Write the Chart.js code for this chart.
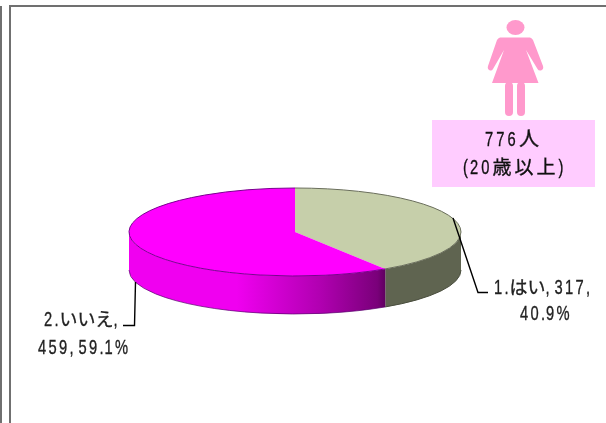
<!DOCTYPE html>
<html><head><meta charset="utf-8">
<style>html,body{margin:0;padding:0;background:#fff;overflow:hidden}canvas{display:block}</style>
<script src="https://cdn.jsdelivr.net/npm/chart.js@4"></script>
</head><body>
<div style="position:relative;width:606px;height:423px"><canvas id="c" width="606" height="423"></canvas></div>
<script>
const categories = ['1.はい', '2.いいえ'];
const counts = [317, 459];
const percents = ['40.9%', '59.1%'];
const topColors = ['#c6cfaa', '#ff00ff'];
const boxLines = ['776人', '(20歳以上)'];

const CX = 295, CY = 232, RX = 166, RY = 44, DEPTH = 38;

// Narrow half-width latin with wide full-width kana, char by char
const ADV = { '.': 5, ',': 9, '%': 12, '(': 7, ')': 9 };
function drawText(ctx, s, x, y, cjkSize, cjkAdv, digitAdv) {
  for (const ch of s) {
    const ascii = ch.charCodeAt(0) < 128;
    ctx.save();
    ctx.translate(x, y);
    if (ascii) {
      ctx.scale(0.7, 1);
      ctx.font = '21px "Liberation Sans","DejaVu Sans",sans-serif';
    } else {
      ctx.font = cjkSize + 'px "Noto Sans CJK JP",sans-serif';
    }
    ctx.lineWidth = 0.35;
    ctx.strokeStyle = ctx.fillStyle;
    ctx.fillText(ch, 0, 0);
    ctx.strokeText(ch, 0, 0);
    ctx.restore();
    x += ascii ? (ADV[ch] || digitAdv) : cjkAdv;
  }
}

const threeD = {
  id: 'threeD',
  beforeDatasetsDraw(chart) {
    const ctx = chart.ctx;
    // page frame
    ctx.save();
    ctx.strokeStyle = '#707070'; ctx.lineWidth = 2;
    ctx.beginPath();
    ctx.moveTo(1, 6); ctx.lineTo(1, 423);
    ctx.moveTo(10, 423); ctx.lineTo(10, 6); ctx.lineTo(606, 6);
    ctx.stroke();
    ctx.restore();
    // pie side wall, from the arc elements' own angles
    const arcs = chart.getDatasetMeta(0).data;
    arcs.forEach((arc, i) => {
      const lo = Math.max(arc.startAngle, 0), hi = Math.min(arc.endAngle, Math.PI);
      if (hi <= lo) return;
      ctx.save();
      ctx.beginPath();
      ctx.ellipse(CX, CY, RX, RY, 0, lo, hi);
      ctx.ellipse(CX, CY + DEPTH, RX, RY, 0, hi, lo, true);
      ctx.closePath();
      if (i === 1) {
        const g = ctx.createLinearGradient(CX - RX, 0, CX + 90, 0);
        g.addColorStop(0, '#f000f0');
        g.addColorStop(0.42, '#f000f0');
        g.addColorStop(0.75, '#b000b0');
        g.addColorStop(0.97, '#7a007a');
        g.addColorStop(1, '#600060');
        ctx.fillStyle = g;
      } else {
        ctx.fillStyle = '#5f6450';
      }
      ctx.fill();
      ctx.strokeStyle = i === 1 ? 'rgba(90,0,110,0.7)' : '#4a4e3e';
      ctx.lineWidth = 1;
      ctx.beginPath();
      ctx.ellipse(CX, CY + DEPTH, RX, RY, 0, lo, hi);
      ctx.stroke();
      ctx.restore();
    });
    // elliptical squash for the library's own arcs
    const a = arcs[0];
    ctx.save();
    ctx.translate(CX, CY);
    ctx.scale(1, RY / a.outerRadius);
    ctx.translate(-a.x, -a.y);
  },
  afterDatasetsDraw(chart) {
    const ctx = chart.ctx;
    ctx.restore();
    // rim of the top face
    const arcs = chart.getDatasetMeta(0).data;
    ctx.save();
    ctx.lineWidth = 1;
    ctx.strokeStyle = '#6a6e5c';
    ctx.beginPath();
    ctx.ellipse(CX, CY, RX, RY, 0, arcs[0].startAngle, arcs[0].endAngle);
    ctx.stroke();
    ctx.strokeStyle = '#7a0090';
    ctx.beginPath();
    ctx.ellipse(CX, CY, RX, RY, 0, arcs[1].startAngle, arcs[1].endAngle);
    ctx.stroke();
    ctx.restore();

    // figure
    ctx.save();
    ctx.fillStyle = '#ff99cc';
    ctx.beginPath(); ctx.ellipse(515.5, 27.5, 9, 7.5, 0, 0, 7); ctx.fill();
    ctx.beginPath();
    ctx.moveTo(500, 37.5); ctx.lineTo(530, 37.5);
    ctx.quadraticCurveTo(532, 38, 533, 40);
    ctx.lineTo(543, 66);
    ctx.quadraticCurveTo(544, 69, 541, 70.5);
    ctx.quadraticCurveTo(538.5, 71, 537.5, 69);
    ctx.lineTo(526, 50);
    ctx.lineTo(538.5, 83); ctx.lineTo(492, 83);
    ctx.lineTo(504, 50);
    ctx.lineTo(493, 69);
    ctx.quadraticCurveTo(492, 71, 490, 70.5);
    ctx.quadraticCurveTo(487, 69, 488, 66);
    ctx.lineTo(497, 40);
    ctx.quadraticCurveTo(498, 38, 500, 37.5);
    ctx.closePath(); ctx.fill();
    ctx.beginPath(); ctx.roundRect(505, 82, 8, 34, 4); ctx.fill();
    ctx.beginPath(); ctx.roundRect(517, 82, 8, 34, 4); ctx.fill();
    ctx.restore();

    // pink box
    ctx.save();
    ctx.fillStyle = '#ffccff';
    ctx.fillRect(432, 120, 163, 67);
    ctx.fillStyle = '#111';
    ctx.textAlign = 'left'; ctx.textBaseline = 'alphabetic';
    drawText(ctx, boxLines[0], 485, 146, 20, 21, 11.3);
    drawText(ctx, boxLines[1], 463, 174, 19, 22, 11.3);
    ctx.restore();

    // leader lines
    ctx.save();
    ctx.strokeStyle = '#000'; ctx.lineWidth = 1.4;
    ctx.beginPath();
    ctx.moveTo(453, 218); ctx.lineTo(478, 292.5); ctx.lineTo(488, 292.5);
    ctx.moveTo(135.5, 282); ctx.lineTo(134.5, 325.5); ctx.lineTo(123, 325.5);
    ctx.stroke();
    ctx.restore();

    // data labels
    ctx.save();
    ctx.fillStyle = '#222';
    ctx.textAlign = 'left'; ctx.textBaseline = 'alphabetic';
    drawText(ctx, categories[0] + ',' + counts[0] + ',', 494, 294, 18, 18, 10.5);
    drawText(ctx, percents[0], 520, 320, 18, 18, 10.5);
    drawText(ctx, categories[1] + ',', 44, 326, 18, 18, 10.5);
    drawText(ctx, counts[1] + ',' + percents[1], 38, 354, 18, 18, 10.5);
    ctx.restore();
  }
};

new Chart(document.getElementById('c'), {
  type: 'pie',
  data: {
    labels: categories,
    datasets: [{ data: counts, backgroundColor: topColors, borderWidth: 0 }]
  },
  options: {
    responsive: false,
    animation: false,
    layout: { padding: { left: 129, right: 145, top: 45, bottom: 46 } },
    plugins: { legend: { display: false }, title: { display: false }, tooltip: { enabled: false } }
  },
  plugins: [threeD]
});
</script>
</body></html>
